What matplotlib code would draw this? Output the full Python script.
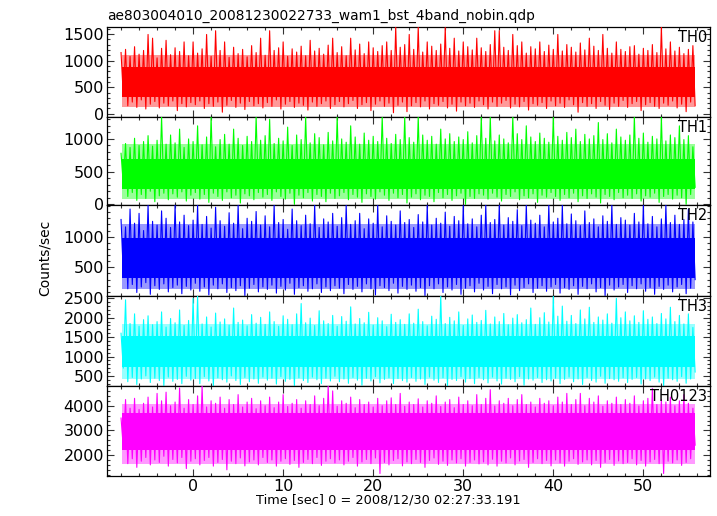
import numpy as np
import matplotlib
matplotlib.use("Agg")
import matplotlib.pyplot as plt
from matplotlib.ticker import MultipleLocator, FixedLocator

plt.rcParams['font.family'] = ['DejaVu Sans']

# time grid: half-second cells starting at -8 s
t_start = -8.0
t_step = 0.5

# per-cell peak (hi) and trough (lo) count rates
th0_hi = [1150, 1210, 1080, 1260, 1120, 1190, 1490, 1420, 1050, 1230, 1380, 1110, 1240, 1170, 1350, 1090,
          1350, 1140, 1220, 1490, 1080, 1560, 1190, 1350, 1060, 1250, 1130, 1210, 1070, 1280, 1150, 1420,
          1100, 1560, 1190, 1240, 1350, 1080, 1220, 1160, 1270, 1090, 1380, 1180, 1230, 1120, 1290, 1420,
          1150, 1260, 1090, 1420, 1200, 1310, 1130, 1350, 1240, 1170, 1280, 1350, 1190, 1630, 1250, 1300,
          1490, 1210, 1630, 1160, 1350, 1270, 1190, 1310, 1620, 1230, 1420, 1180, 1350, 1260, 1200, 1420,
          1240, 1170, 1300, 1560, 1560, 1250, 1190, 1490, 1280, 1350, 1140, 1260, 1220, 1350, 1170, 1290,
          1210, 1490, 1180, 1300, 1250, 1160, 1330, 1200, 1420, 1270, 1190, 1490, 1230, 1140, 1350, 1210,
          1170, 1260, 1280, 1120, 1230, 1190, 1300, 1150, 1630, 1220, 1350, 1180, 1250, 1130, 1210, 1280]
th0_lo = [340, 150, 220, 120, 260, 90, 180, 230, 110, 200, 150, 240, 60, 190, 130, 210,
          170, 240, 100, 190, 140, 220, 30, 160, 250, 120, 200, 80, 230, 150, 190, 110,
          210, 140, 260, 90, 180, 230, 120, 200, 160, 70, 220, 140, 190, 240, 100, 170,
          230, 130, 190, 250, 100, 170, 210, 60, 180, 240, 140, 200, 20, 160, 220, 40,
          150, 210, 130, 240, 90, 190, 160, 230, 110, 180, 50, 220, 150, 200, 120, 240,
          170, 90, 220, 140, 200, 250, 110, 180, 130, 230, 70, 190, 160, 210, 100, 240,
          150, 200, 120, 260, 170, 30, 210, 140, 190, 100, 230, 160, 80, 200, 140, 250,
          120, 190, 230, 60, 170, 210, 140, 100, 200, 160, 240, 110, 180, 40, 220, 150]

th1_hi = [780, 930, 870, 1010, 900, 960, 1050, 890, 980, 1340, 920, 1060, 940, 1150, 870, 1000,
          960, 1200, 910, 1030, 1340, 880, 990, 1070, 920, 1150, 1010, 900, 1040, 960, 1340, 980,
          1050, 1300, 930, 1010, 970, 1180, 900, 1060, 990, 1340, 940, 1080, 1020, 910, 1100, 970,
          1340, 1000, 950, 1200, 1030, 920, 1090, 980, 1040, 960, 1340, 1010, 930, 1070, 990, 1340,
          1020, 950, 1340, 1060, 980, 1040, 920, 1150, 1000, 1080, 960, 1030, 990, 1110, 940, 1050,
          1340, 1010, 1340, 970, 1060, 1000, 940, 1340, 1080, 990, 1200, 1030, 960, 1090, 1010, 950,
          1340, 1040, 980, 1100, 1020, 1150, 960, 1070, 1000, 1050, 1250, 990, 1080, 940, 1150, 1030,
          980, 1060, 1340, 1010, 1090, 950, 1040, 1000, 1340, 970, 1060, 1020, 1200, 990, 1050, 880]
th1_lo = [300, 120, 180, 60, 150, 90, 200, 40, 130, 170, 70, 160, 110, 190, 50, 140,
          180, 80, 150, 30, 170, 120, 60, 190, 100, 140, 20, 160, 130, 70, 180, 110,
          150, 60, 190, 120, 80, 170, 0, 140, 100, 180, 50, 150, 120, 40, 170, 90,
          130, 180, 70, 150, 110, 30, 160, 120, 80, 190, 140, 60, 170, 100, 150, 20,
          110, 160, 70, 140, 120, 40, 180, 100, 150, 60, 130, 170, 0, 120, 90, 160,
          140, 80, 170, 110, 50, 150, 120, 190, 70, 130, 100, 160, 30, 140, 110, 180,
          120, 60, 150, 100, 170, 40, 130, 90, 160, 110, 20, 150, 120, 70, 180, 100,
          140, 90, 160, 50, 130, 110, 170, 30, 120, 150, 80, 140, 100, 0, 150, 260]

th2_hi = [1280, 1160, 1450, 1220, 1380, 1100, 1516, 1250, 1190, 1420, 1300, 1150, 1516, 1240, 1350, 1180,
          1270, 1516, 1200, 1330, 1140, 1480, 1260, 1170, 1390, 1220, 1516, 1130, 1300, 1250, 1410, 1190,
          1340, 1160, 1516, 1230, 1280, 1120, 1450, 1260, 1180, 1350, 1210, 1516, 1150, 1290, 1240, 1380,
          1170, 1310, 1516, 1200, 1260, 1380, 1130, 1290, 1220, 1516, 1160, 1340, 1250, 1190, 1420, 1230,
          1280, 1150, 1360, 1240, 1516, 1190, 1300, 1220, 1400, 1170, 1330, 1260, 1516, 1210, 1290, 1160,
          1350, 1516, 1230, 1280, 1516, 1190, 1310, 1250, 1440, 1180, 1516, 1270, 1220, 1350, 1160, 1516,
          1240, 1300, 1516, 1210, 1370, 1260, 1180, 1420, 1230, 1290, 1160, 1340, 1250, 1516, 1200, 1310,
          1270, 1190, 1380, 1240, 1516, 1210, 1330, 1160, 1290, 1516, 1230, 1350, 1200, 1280, 1450, 1240]
th2_lo = [400, 150, 220, 90, 180, 250, 60, 200, 140, 230, 100, 170, 210, 70, 190, 130,
          240, 110, 180, 50, 210, 150, 230, 90, 170, 120, 200, 40, 160, 220, 100, 180,
          140, 210, 80, 190, 130, 240, 60, 170, 200, 110, 150, 230, 90, 180, 120, 200,
          160, 70, 220, 140, 190, 100, 230, 150, 50, 200, 170, 120, 240, 80, 190, 140,
          210, 110, 170, 40, 200, 150, 230, 90, 180, 130, 220, 60, 160, 200, 100, 240,
          130, 190, 70, 220, 150, 180, 50, 210, 120, 170, 230, 90, 160, 200, 110, 180,
          220, 80, 170, 140, 200, 60, 190, 150, 230, 100, 170, 40, 210, 130, 180, 220,
          90, 200, 150, 230, 110, 170, 60, 190, 140, 210, 100, 180, 220, 70, 160, 300]

th3_hi = [1600, 2460, 1850, 2100, 1780, 1950, 2050, 1820, 1900, 2150, 1760, 1980, 1870, 2200, 1800, 1930,
          2500, 2560, 1840, 2020, 1760, 2120, 1890, 1970, 1810, 2250, 1880, 1940, 1790, 2080, 1860, 2010,
          1830, 2150, 1900, 1780, 2050, 1960, 1820, 2100, 2365, 1870, 1990, 1800, 2180, 1920, 1850, 2060,
          1780, 2030, 1910, 2280, 1840, 1980, 1870, 2140, 1810, 2000, 1920, 1770, 2090, 1880, 1950, 1830,
          2100, 1860, 2220, 1900, 1790, 2040, 1960, 2560, 1850, 2010, 1920, 2150, 1800, 1970, 2070, 1880,
          1930, 2190, 1840, 2020, 1900, 2110, 1820, 1990, 2080, 1870, 1950, 2250, 1830, 2000, 2130, 1890,
          2560, 2040, 2300, 1910, 2060, 1850, 2200, 1970, 2270, 1880, 2020, 1940, 2100, 1860, 2500, 2000,
          2150, 1920, 2050, 1880, 2180, 1960, 2020, 1850, 2110, 1970, 2270, 1900, 2060, 1840, 2100, 1750]
th3_lo = [700, 350, 460, 280, 420, 500, 330, 440, 380, 250, 470, 360, 410, 300, 490, 390,
          430, 300, 480, 370, 240, 450, 400, 340, 500, 380, 280, 460, 350, 420, 310, 470,
          390, 440, 290, 480, 360, 410, 250, 450, 380, 330, 470, 400, 300, 440, 370, 490,
          350, 420, 310, 460, 390, 260, 440, 370, 480, 320, 410, 450, 300, 430, 380, 340,
          460, 360, 420, 280, 470, 390, 330, 450, 250, 410, 380, 480, 340, 430, 300, 460,
          400, 320, 470, 370, 290, 440, 410, 350, 480, 260, 420, 390, 460, 330, 400, 370,
          440, 300, 410, 470, 350, 420, 280, 460, 380, 340, 490, 310, 430, 400, 360, 450,
          330, 410, 460, 290, 420, 380, 470, 340, 250, 440, 400, 360, 480, 310, 420, 600]

th0123_hi = [3500, 4250, 3900, 4300, 3850, 4100, 4350, 3950, 4500, 4200, 4550, 4000, 4150, 4720, 3900, 4250,
             4050, 4400, 4800, 3950, 4200, 4100, 4350, 3900, 4250, 4050, 4450, 3950, 4150, 4300, 3880, 4200,
             4000, 4350, 3920, 4150, 4450, 3970, 4100, 4250, 3900, 4200, 4050, 4400, 4000, 4300, 4800, 4600,
             3980, 4200, 4100, 4350, 3920, 4250, 4050, 4150, 3950, 4300, 4000, 4200, 4320, 4050, 4500, 3980,
             4150, 4050, 4280, 3950, 4200, 4100, 4400, 3970, 4150, 4250, 3920, 4350, 4050, 4200, 4000, 4450,
             4050, 4300, 4650, 3990, 4200, 4100, 4300, 4000, 4250, 4450, 4050, 4150, 3950, 4300, 4100, 4200,
             4000, 4350, 4150, 4500, 4050, 4250, 4500, 4000, 4300, 4150, 4400, 3980, 4200, 4100, 4350, 4050,
             4250, 4100, 4400, 3990, 4200, 4300, 4700, 4050, 4250, 4150, 4350, 4000, 4200, 4450, 4100, 3900]
th0123_lo = [2300, 1650, 1850, 1500, 1750, 1900, 1600, 1800, 1700, 1950, 1550, 1820, 1680, 1900, 1450, 1750,
             1850, 1600, 1780, 1900, 1550, 1700, 1820, 1400, 1750, 1650, 1880, 1560, 1720, 1800, 1600, 1900,
             1700, 1800, 1550, 1750, 1850, 1620, 1780, 1500, 1700, 1820, 1650, 1900, 1580, 1750, 1850, 1680,
             1800, 1600, 1750, 1900, 1550, 1720, 1820, 1650, 1880, 1250, 1700, 1600, 1780, 1850, 1560, 1720,
             1650, 1820, 1700, 1500, 1780, 1880, 1620, 1750, 1580, 1800, 1680, 1850, 1550, 1700, 1800, 1640,
             1720, 1600, 1830, 1550, 1750, 1680, 1880, 1600, 1760, 1820, 1500, 1700, 1850, 1650, 1780, 1560,
             1800, 1680, 1550, 1750, 1850, 1620, 1720, 1800, 1600, 1780, 1500, 1700, 1820, 1580, 1760, 1650,
             1700, 1850, 1600, 1780, 1550, 1720, 1820, 1650, 1250, 1750, 1680, 1800, 1580, 1700, 1850, 2400]

# dense central band and the looser fringe around it
core_lo = [320, 240, 330, 740, 2200]
core_hi = [880, 700, 980, 1520, 3700]
fringe_lo = [130, 80, 140, 420, 1650]
fringe_hi = [1100, 920, 1200, 1850, 4050]

names = ["TH0", "TH1", "TH2", "TH3", "TH0123"]
his = [th0_hi, th1_hi, th2_hi, th3_hi, th0123_hi]
los = [th0_lo, th1_lo, th2_lo, th3_lo, th0123_lo]
colors = ["#ff0000", "#00ff00", "#0000ff", "#00ffff", "#ff00ff"]
ylims = [(-60, 1630), (-10, 1335), (33, 1516), (240, 2560), (1150, 4800)]
yticks = [[0, 500, 1000, 1500], [0, 500, 1000], [500, 1000],
          [500, 1000, 1500, 2000, 2500], [2000, 3000, 4000]]
yminor = [100, 100, 100, 100, 200]

W, H = 717, 516
fig = plt.figure(figsize=(W / 100, H / 100), dpi=100)

left = 107 / W
width = (710 - 107) / W
edges = [27, 117, 205, 296, 386, 476]

for i in range(5):
    top, bot = edges[i], edges[i + 1]
    ax = fig.add_axes([left, 1 - bot / H, width, (bot - top) / H])

    hi = np.array(his[i], dtype=float)
    lo = np.array(los[i], dtype=float)
    t = t_start + t_step * np.arange(len(hi))

    x = np.empty(2 * len(t))
    y = np.empty(2 * len(t))
    x[0::2] = t
    x[1::2] = t + t_step / 2
    y[0::2] = hi
    y[1::2] = lo

    span = [t[0] + 0.1, t[-1] + t_step / 2]
    ax.fill_between(span, fringe_lo[i], fringe_hi[i], color=colors[i],
                    alpha=0.4, lw=0, zorder=2)
    ax.fill_between(span, core_lo[i], core_hi[i], color=colors[i], lw=0, zorder=2)
    ax.plot(x, y, color=colors[i], lw=0.8, zorder=3)

    ax.set_xlim(-9.56, 57.4)
    ax.set_ylim(*ylims[i])
    ax.xaxis.set_major_locator(MultipleLocator(10))
    ax.xaxis.set_minor_locator(MultipleLocator(2))
    ax.yaxis.set_major_locator(FixedLocator(yticks[i]))
    ax.yaxis.set_minor_locator(MultipleLocator(yminor[i]))
    ax.tick_params(which='both', direction='in', top=True, right=True,
                   labelsize=11.5, width=0.8, color='#333333', pad=2)
    ax.tick_params(which='major', length=5)
    ax.tick_params(which='minor', length=2.5)
    for s in ax.spines.values():
        s.set_linewidth(0.9)
    if i < 4:
        ax.tick_params(labelbottom=False)
    ax.text(0.995, 0.97, names[i], transform=ax.transAxes, ha='right', va='top',
            fontsize=10.5, zorder=5)

fig.text(107 / W, 1 - 20 / H, "ae803004010_20081230022733_wam1_bst_4band_nobin.qdp",
         ha='left', va='baseline', fontsize=9.9)
fig.text(388 / W, 1 - 500 / H, "Time [sec] 0 = 2008/12/30 02:27:33.191",
         ha='center', va='center', fontsize=9.3)
fig.text(45 / W, 1 - 258 / H, "Counts/sec", rotation=90,
         ha='center', va='center', fontsize=10)

fig.savefig("out.png", dpi=100)
